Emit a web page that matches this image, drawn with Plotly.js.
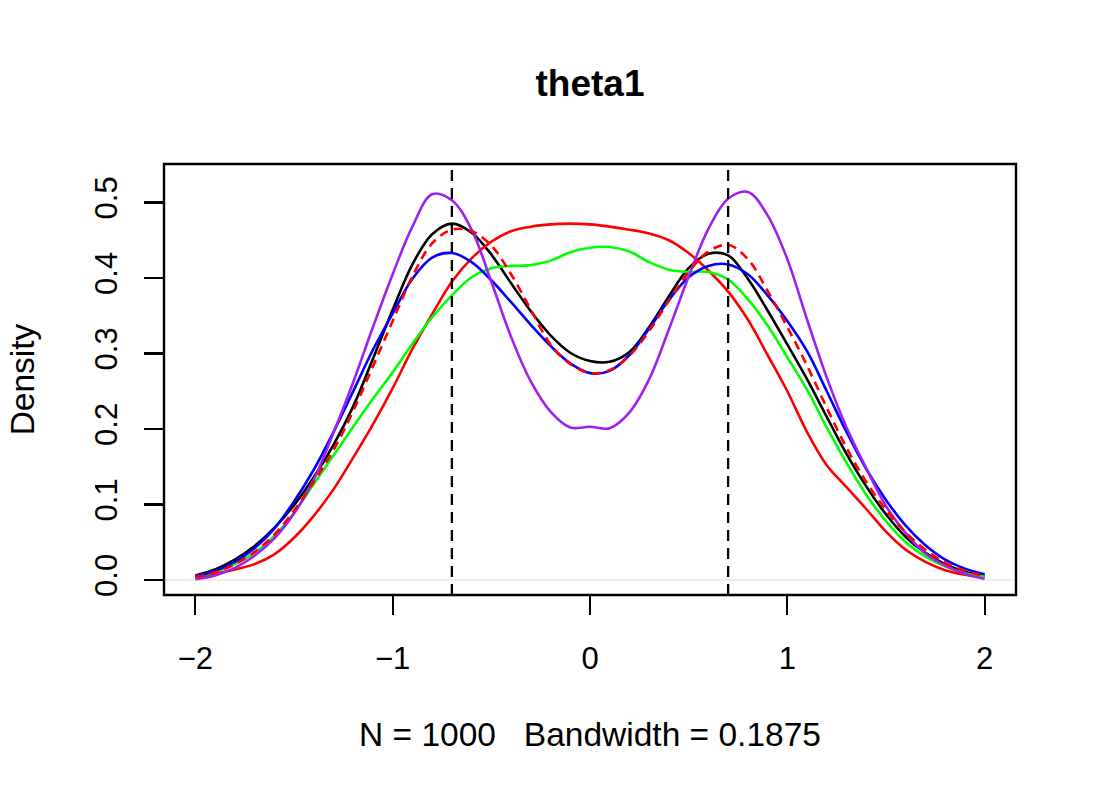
<!DOCTYPE html>
<html>
<head>
<meta charset="utf-8">
<script src="https://cdn.plot.ly/plotly-3.0.1.min.js"></script>
<style>
  html, body { margin: 0; padding: 0; background: #ffffff; }
  #chart { width: 1100px; height: 800px; }
</style>
</head>
<body>
<div id="chart"></div>
<script>
// Evaluation grid for the density estimates of theta1
const xGrid = [-2.0, -1.9, -1.8, -1.7, -1.6, -1.5, -1.4, -1.3, -1.2, -1.1,
               -1.0, -0.9, -0.8, -0.7, -0.6, -0.5, -0.4, -0.3, -0.2, -0.1,
                0.0,  0.1,  0.2,  0.3,  0.4,  0.5,  0.6,  0.7,  0.8,  0.9,
                1.0,  1.1,  1.2,  1.3,  1.4,  1.5,  1.6,  1.7,  1.8,  1.9, 2.0];

// Density curves (one per sampler / run)
const densBlack = [0.006, 0.014, 0.027, 0.045, 0.069, 0.099, 0.136, 0.179, 0.230, 0.293,
                   0.358, 0.418, 0.458, 0.472, 0.460, 0.431, 0.393, 0.356, 0.324, 0.301,
                   0.290, 0.289, 0.302, 0.335, 0.376, 0.413, 0.432, 0.430, 0.399, 0.357,
                   0.312, 0.266, 0.216, 0.167, 0.124, 0.087, 0.057, 0.036, 0.021, 0.011, 0.006];

const densRed = [0.0035, 0.0085, 0.014, 0.021, 0.034, 0.056, 0.085, 0.120, 0.162, 0.206,
                 0.254, 0.306, 0.352, 0.395, 0.426, 0.448, 0.462, 0.468, 0.471, 0.472,
                 0.471, 0.468, 0.464, 0.459, 0.450, 0.433, 0.410, 0.382, 0.345, 0.298,
                 0.250, 0.196, 0.152, 0.123, 0.094, 0.064, 0.040, 0.024, 0.013, 0.007, 0.0035];

const densGreen = [0.005, 0.011, 0.021, 0.036, 0.058, 0.089, 0.127, 0.165, 0.203, 0.240,
                   0.275, 0.313, 0.348, 0.377, 0.401, 0.413, 0.416, 0.417, 0.423, 0.434,
                   0.440, 0.441, 0.435, 0.421, 0.411, 0.408, 0.408, 0.398, 0.372, 0.337,
                   0.295, 0.252, 0.202, 0.155, 0.113, 0.078, 0.050, 0.031, 0.018, 0.009, 0.0045];

const densBlue = [0.005, 0.012, 0.024, 0.042, 0.068, 0.104, 0.146, 0.196, 0.250, 0.305,
                  0.353, 0.399, 0.427, 0.433, 0.421, 0.397, 0.368, 0.338, 0.310, 0.287,
                  0.274, 0.277, 0.298, 0.333, 0.371, 0.401, 0.416, 0.418, 0.405, 0.377,
                  0.343, 0.303, 0.250, 0.196, 0.147, 0.106, 0.072, 0.046, 0.027, 0.015, 0.0075];

const densPurple = [0.001, 0.006, 0.016, 0.032, 0.055, 0.088, 0.133, 0.195, 0.262, 0.335,
                    0.405, 0.468, 0.511, 0.503, 0.464, 0.395, 0.322, 0.263, 0.223, 0.202,
                    0.203, 0.201, 0.222, 0.266, 0.332, 0.402, 0.465, 0.505, 0.514, 0.483,
                    0.425, 0.345, 0.268, 0.202, 0.148, 0.098, 0.062, 0.035, 0.019, 0.008, 0.0015];

const densRedDashed = [0.004, 0.010, 0.021, 0.037, 0.060, 0.092, 0.130, 0.172, 0.224, 0.283,
                       0.343, 0.402, 0.446, 0.464, 0.462, 0.443, 0.405, 0.358, 0.312, 0.286,
                       0.274, 0.278, 0.297, 0.330, 0.370, 0.408, 0.435, 0.444, 0.425, 0.383,
                       0.335, 0.284, 0.228, 0.175, 0.130, 0.093, 0.063, 0.040, 0.023, 0.012, 0.005];

// Reference values marked with dashed vertical lines
const trueModes = [-0.7, 0.7];

// Axis ticks
const xTicks = [-2, -1, 0, 1, 2];
const xTickText = ['\u22122', '\u22121', '0', '1', '2'];
const yTicks = [0, 0.1, 0.2, 0.3, 0.4, 0.5];
const yTickText = ['0.0', '0.1', '0.2', '0.3', '0.4', '0.5'];

const FONT = 'Liberation Sans, Arial, Helvetica, sans-serif';

function curve(y, color, dash) {
  return {
    type: 'scatter', mode: 'lines', x: xGrid, y: y,
    line: { color: color, width: 2.6, shape: 'spline', smoothing: 1, dash: dash || 'solid' },
    hoverinfo: 'skip', showlegend: false
  };
}

const traces = [
  curve(densBlack, '#000000'),
  curve(densRed, '#FF0000'),
  curve(densGreen, '#00FF00'),
  curve(densBlue, '#0000FF'),
  curve(densPurple, '#A020F0'),
  curve(densRedDashed, '#FF0000', '9px,6px')
];

const shapes = [
  // zero line
  { type: 'line', xref: 'paper', yref: 'y', x0: 0, x1: 1, y0: 0, y1: 0,
    line: { color: '#dadada', width: 1.2 }, layer: 'below' },
  // plot frame
  { type: 'rect', xref: 'paper', yref: 'paper', x0: 0, x1: 1, y0: 0, y1: 1,
    line: { color: '#000000', width: 2.4 }, layer: 'above' }
];
trueModes.forEach(function (v) {
  shapes.push({ type: 'line', xref: 'x', yref: 'paper', x0: v, x1: v, y0: 0, y1: 1,
    line: { color: '#000000', width: 2.3, dash: '11px,7px' }, layer: 'above' });
});

const layout = {
  width: 1100, height: 800,
  margin: { l: 164, r: 84, t: 164, b: 205, pad: 0 },
  paper_bgcolor: '#ffffff', plot_bgcolor: '#ffffff',
  font: { family: FONT, color: '#000000', size: 31 },
  title: {
    text: '<b>theta1</b>', font: { family: FONT, size: 37, color: '#000000' },
    x: 0.5, xref: 'paper', xanchor: 'center',
    y: 1 - 83 / 800, yref: 'container', yanchor: 'middle'
  },
  xaxis: {
    range: [-2.159, 2.159], tickmode: 'array', tickvals: xTicks, ticktext: xTickText,
    ticks: 'outside', ticklen: 19, tickwidth: 2.2, tickcolor: '#000000',
    showgrid: false, zeroline: false, showline: false,
    tickfont: { family: FONT, size: 31 }, ticklabelstandoff: 17,
    title: { text: 'N = 1000\u00a0\u00a0\u00a0Bandwidth = 0.1875', font: { family: FONT, size: 33.5 }, standoff: 47 }
  },
  yaxis: {
    range: [-0.0199, 0.551], tickmode: 'array', tickvals: yTicks, ticktext: yTickText,
    ticks: 'outside', ticklen: 19, tickwidth: 2.2, tickcolor: '#000000',
    showgrid: false, zeroline: false, showline: false, tickangle: -90,
    tickfont: { family: FONT, size: 31 }, ticklabelstandoff: 15,
    title: { text: 'Density', font: { family: FONT, size: 33.5 }, standoff: 43 }
  },
  shapes: shapes,
  showlegend: false
};

Plotly.newPlot('chart', traces, layout, { displayModeBar: false, staticPlot: true });
</script>
</body>
</html>
